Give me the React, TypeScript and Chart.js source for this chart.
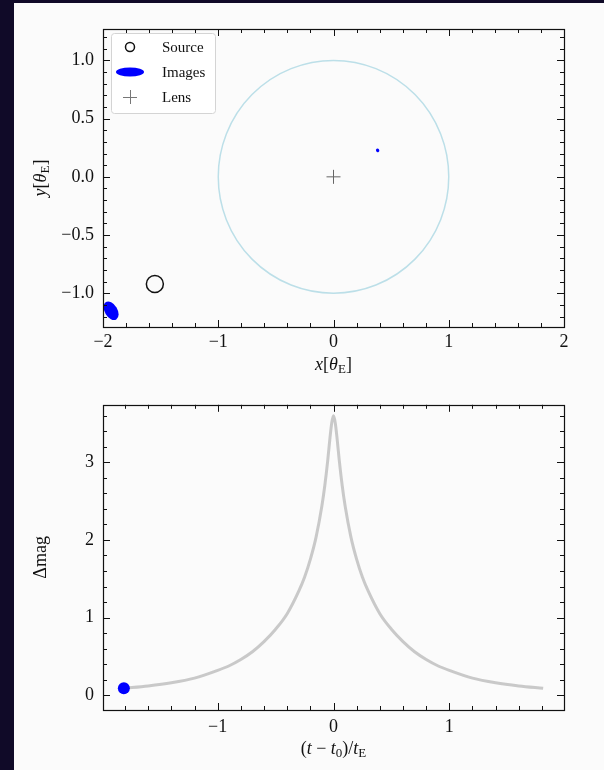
import React, { useEffect, useRef } from "react";
import { Chart, registerables } from "chart.js";

Chart.register(...registerables);

// ---------- Data (top panel: lens plane) ----------
const sourceX = [-1.55];
const sourceY = [-0.92];
const lensX = [0];
const lensY = [0];
const imageX = [-1.93, 0.383];
const imageY = [-1.15, 0.227];
const imageSemiMajor = [0.088, 0.016];
const imageSemiMinor = [0.055, 0.014];
const imageAngleDeg = [59, 59];
const ringRadius = [1];
const topXLimits = [-2, 2];
const topYLimits = [-1.29, 1.27];

// ---------- Data (bottom panel: light curve) ----------
const tau = [
  -1.81, -1.6, -1.4, -1.2, -1.0, -0.9, -0.8, -0.7, -0.6, -0.5, -0.4, -0.3, -0.25, -0.2, -0.15,
  -0.1, -0.075, -0.05, -0.03, -0.015, 0, 0.015, 0.03, 0.05, 0.075, 0.1, 0.15, 0.2, 0.25, 0.3,
  0.4, 0.5, 0.6, 0.7, 0.8, 0.9, 1.0, 1.2, 1.4, 1.6, 1.81,
];
const dmag = [
  0.09, 0.12, 0.16, 0.22, 0.32, 0.38, 0.46, 0.56, 0.69, 0.85, 1.05, 1.34, 1.52, 1.75, 2.04,
  2.44, 2.7, 3.02, 3.32, 3.51, 3.6, 3.51, 3.32, 3.02, 2.7, 2.44, 2.04, 1.75, 1.52, 1.34,
  1.05, 0.85, 0.69, 0.56, 0.46, 0.38, 0.32, 0.22, 0.16, 0.12, 0.09,
];
const currentTau = [-1.81];
const currentDmag = [0.09];
const botXLimits = [-1.99, 1.99];
const botYLimits = [-0.19, 3.74];

const SERIF = "'Liberation Serif', 'DejaVu Serif', serif";
const TICK_FONT = { family: SERIF, size: 18 };

type Seg = { t: string; i?: boolean; sub?: boolean };

function drawRich(ctx: CanvasRenderingContext2D, segs: Seg[], x: number, y: number, rot: number, size: number) {
  const subSize = Math.round(size * 0.7);
  const fontOf = (s: Seg) => `${s.i ? "italic " : ""}${s.sub ? subSize : size}px ${SERIF}`;
  let total = 0;
  for (const s of segs) {
    ctx.font = fontOf(s);
    total += ctx.measureText(s.t).width;
  }
  ctx.save();
  ctx.translate(x, y);
  ctx.rotate(rot);
  ctx.fillStyle = "#111";
  ctx.textBaseline = "middle";
  ctx.textAlign = "left";
  let cx = -total / 2;
  for (const s of segs) {
    ctx.font = fontOf(s);
    ctx.fillText(s.t, cx, s.sub ? size * 0.28 : 0);
    cx += ctx.measureText(s.t).width;
  }
  ctx.restore();
}

function fmt(v: number, dec: number) {
  const s = Math.abs(v) < 1e-9 ? (0).toFixed(dec) : v.toFixed(dec);
  return s.replace("-", "\u2212");
}

function seq(min: number, max: number, step: number) {
  const out: number[] = [];
  for (let k = Math.ceil(min / step - 1e-9); k * step <= max + 1e-9; k++) out.push(k * step);
  return out;
}

function frameTicks(xMinor: number, xMajor: number, yMinor: number, yMajor: number) {
  return {
    id: "frameTicks",
    afterDatasetsDraw(chart: any) {
      const { ctx, chartArea: a, scales } = chart;
      const xs = scales.x;
      const ys = scales.y;
      const isMajor = (v: number, M: number) => Math.abs(v / M - Math.round(v / M)) < 1e-6;
      ctx.save();
      ctx.strokeStyle = "#111";
      ctx.lineWidth = 1;
      ctx.beginPath();
      for (const v of seq(xs.min, xs.max, xMinor)) {
        const px = Math.round(xs.getPixelForValue(v)) + 0.5;
        const L = isMajor(v, xMajor) ? 7 : 4;
        ctx.moveTo(px, a.bottom);
        ctx.lineTo(px, a.bottom - L);
        ctx.moveTo(px, a.top);
        ctx.lineTo(px, a.top + L);
      }
      for (const v of seq(ys.min, ys.max, yMinor)) {
        const py = Math.round(ys.getPixelForValue(v)) + 0.5;
        const L = isMajor(v, yMajor) ? 7 : 4;
        ctx.moveTo(a.left, py);
        ctx.lineTo(a.left + L, py);
        ctx.moveTo(a.right, py);
        ctx.lineTo(a.right - L, py);
      }
      ctx.stroke();
      ctx.lineWidth = 1.2;
      ctx.strokeRect(Math.round(a.left) + 0.5, Math.round(a.top) + 0.5, Math.round(a.right - a.left), Math.round(a.bottom - a.top));
      ctx.restore();
    },
  };
}

function axisTitles(xSegs: Seg[], ySegs: Seg[], xTitleY: number, yTitleX: number) {
  return {
    id: "axisTitles",
    afterDraw(chart: any) {
      const { ctx, chartArea: a } = chart;
      drawRich(ctx, xSegs, (a.left + a.right) / 2, xTitleY, 0, 18);
      drawRich(ctx, ySegs, yTitleX, (a.top + a.bottom) / 2, -Math.PI / 2, 18);
    },
  };
}

const lensPlanePlugin = {
  id: "lensPlane",
  beforeDatasetsDraw(chart: any) {
    const { ctx, chartArea: a, scales } = chart;
    const xs = scales.x;
    const ys = scales.y;
    ctx.save();
    ctx.beginPath();
    ctx.rect(a.left, a.top, a.right - a.left, a.bottom - a.top);
    ctx.clip();
    // Einstein ring
    const cx = xs.getPixelForValue(0);
    const cy = ys.getPixelForValue(0);
    const rx = Math.abs(xs.getPixelForValue(ringRadius[0]) - cx);
    const ry = Math.abs(ys.getPixelForValue(ringRadius[0]) - cy);
    ctx.strokeStyle = "#bcdfe8";
    ctx.lineWidth = 1.5;
    ctx.beginPath();
    ctx.ellipse(cx, cy, rx, ry, 0, 0, Math.PI * 2);
    ctx.stroke();
    // Images
    ctx.fillStyle = "#0000ff";
    const unit = Math.abs(xs.getPixelForValue(1) - xs.getPixelForValue(0));
    for (let k = 0; k < imageX.length; k++) {
      ctx.beginPath();
      ctx.ellipse(
        xs.getPixelForValue(imageX[k]),
        ys.getPixelForValue(imageY[k]),
        imageSemiMajor[k] * unit,
        imageSemiMinor[k] * unit,
        (imageAngleDeg[k] * Math.PI) / 180,
        0,
        Math.PI * 2
      );
      ctx.fill();
    }
    ctx.restore();
  },
  afterDraw(chart: any) {
    const { ctx, chartArea: a } = chart;
    const x0 = a.left + 8;
    const y0 = a.top + 4;
    const w = 104;
    const h = 80;
    ctx.save();
    ctx.fillStyle = "rgba(255,255,255,0.85)";
    ctx.strokeStyle = "#d4d4d4";
    ctx.lineWidth = 1;
    ctx.beginPath();
    (ctx as any).roundRect(x0 + 0.5, y0 + 0.5, w, h, 3);
    ctx.fill();
    ctx.stroke();
    const mx = a.left + 27;
    const tx = a.left + 59;
    const rows = [a.top + 18, a.top + 43, a.top + 68];
    // Source marker
    ctx.strokeStyle = "#111";
    ctx.lineWidth = 1.5;
    ctx.beginPath();
    ctx.arc(mx, rows[0], 4.5, 0, Math.PI * 2);
    ctx.stroke();
    // Images marker
    ctx.fillStyle = "#0000ff";
    ctx.beginPath();
    ctx.ellipse(mx, rows[1], 14, 4.5, 0, 0, Math.PI * 2);
    ctx.fill();
    // Lens marker
    ctx.strokeStyle = "#777";
    ctx.lineWidth = 1;
    ctx.beginPath();
    ctx.moveTo(mx - 7, rows[2] + 0.5);
    ctx.lineTo(mx + 7, rows[2] + 0.5);
    ctx.moveTo(mx + 0.5, rows[2] - 7);
    ctx.lineTo(mx + 0.5, rows[2] + 7);
    ctx.stroke();
    ctx.fillStyle = "#111";
    ctx.font = `15px ${SERIF}`;
    ctx.textBaseline = "middle";
    ctx.textAlign = "left";
    ctx.fillText("Source", tx, rows[0] + 1);
    ctx.fillText("Images", tx, rows[1] + 1);
    ctx.fillText("Lens", tx, rows[2] + 1);
    ctx.restore();
  },
};

function scaleCommon(min: number, max: number, step: number, dec: number) {
  return {
    type: "linear" as const,
    min,
    max,
    grid: { display: false, drawTicks: false },
    border: { display: false },
    ticks: {
      stepSize: step,
      includeBounds: false,
      font: TICK_FONT,
      color: "#111",
      callback: (v: any) => fmt(Number(v), dec),
    },
  };
}

export default function App() {
  const topRef = useRef<HTMLCanvasElement>(null);
  const botRef = useRef<HTMLCanvasElement>(null);

  useEffect(() => {
    const top = new Chart(topRef.current!, {
      type: "scatter",
      data: {
        datasets: [
          {
            label: "Source",
            data: sourceX.map((x, i) => ({ x, y: sourceY[i] })),
            pointStyle: "circle",
            pointRadius: 8.5,
            borderColor: "#111",
            borderWidth: 1.5,
            backgroundColor: "rgba(0,0,0,0)",
          },
          {
            label: "Lens",
            data: lensX.map((x, i) => ({ x, y: lensY[i] })),
            pointStyle: "cross",
            pointRadius: 7,
            borderColor: "#666",
            borderWidth: 1,
          },
        ],
      },
      options: {
        responsive: false,
        animation: false,
        layout: { padding: { left: 0, right: 40, top: 26, bottom: 0 } },
        plugins: { legend: { display: false }, tooltip: { enabled: false } },
        scales: {
          x: {
            ...scaleCommon(topXLimits[0], topXLimits[1], 1, 0),
            ticks: { ...scaleCommon(0, 1, 1, 0).ticks, padding: 4 },
            afterFit: (s: any) => { s.height = 58; },
          },
          y: {
            ...scaleCommon(topYLimits[0], topYLimits[1], 0.5, 1),
            ticks: { ...scaleCommon(0, 1, 0.5, 1).ticks, padding: 9 },
            afterFit: (s: any) => { s.width = 89; },
          },
        },
      } as any,
      plugins: [
        lensPlanePlugin,
        frameTicks(0.2, 1, 0.1, 0.5),
        axisTitles(
          [{ t: "x", i: true }, { t: "[" }, { t: "θ", i: true }, { t: "E", sub: true }, { t: "]" }],
          [{ t: "y", i: true }, { t: "[" }, { t: "θ", i: true }, { t: "E", sub: true }, { t: "]" }],
          362,
          27
        ),
      ],
    });

    const bot = new Chart(botRef.current!, {
      type: "line",
      data: {
        datasets: [
          {
            label: "current",
            data: currentTau.map((x, i) => ({ x, y: currentDmag[i] })),
            showLine: false,
            pointRadius: 6,
            pointBackgroundColor: "#0000ff",
            pointBorderColor: "#0000ff",
            pointBorderWidth: 0,
          },
          {
            label: "light curve",
            data: tau.map((x, i) => ({ x, y: dmag[i] })),
            borderColor: "rgba(195,195,195,0.9)",
            borderWidth: 3,
            pointRadius: 0,
            cubicInterpolationMode: "monotone",
            fill: false,
          },
        ],
      },
      options: {
        responsive: false,
        animation: false,
        layout: { padding: { left: 0, right: 40, top: 17, bottom: 0 } },
        plugins: { legend: { display: false }, tooltip: { enabled: false } },
        scales: {
          x: {
            ...scaleCommon(botXLimits[0], botXLimits[1], 1, 0),
            ticks: { ...scaleCommon(0, 1, 1, 0).ticks, padding: 6 },
            afterFit: (s: any) => { s.height = 60; },
          },
          y: {
            ...scaleCommon(botYLimits[0], botYLimits[1], 1, 0),
            ticks: { ...scaleCommon(0, 1, 1, 0).ticks, padding: 9 },
            afterFit: (s: any) => { s.width = 89; },
          },
        },
      } as any,
      plugins: [
        frameTicks(0.2, 1, 0.2, 1),
        axisTitles(
          [
            { t: "(" },
            { t: "t", i: true },
            { t: " \u2212 " },
            { t: "t", i: true },
            { t: "0", sub: true },
            { t: ")/" },
            { t: "t", i: true },
            { t: "E", sub: true },
          ],
          [{ t: "Δmag" }],
          364,
          27
        ),
      ],
    });

    return () => {
      top.destroy();
      bot.destroy();
    };
  }, []);

  return (
    <div style={{ position: "fixed", left: 0, top: 0, width: 604, height: 770, background: "#100a28" }}>
      <div style={{ position: "absolute", left: 14, top: 3, width: 590, height: 767, background: "#fbfbfb" }}>
        <canvas ref={topRef} width={590} height={382} style={{ position: "absolute", left: 0, top: 0, display: "block" }} />
        <canvas ref={botRef} width={590} height={385} style={{ position: "absolute", left: 0, top: 382, display: "block" }} />
      </div>
    </div>
  );
}
